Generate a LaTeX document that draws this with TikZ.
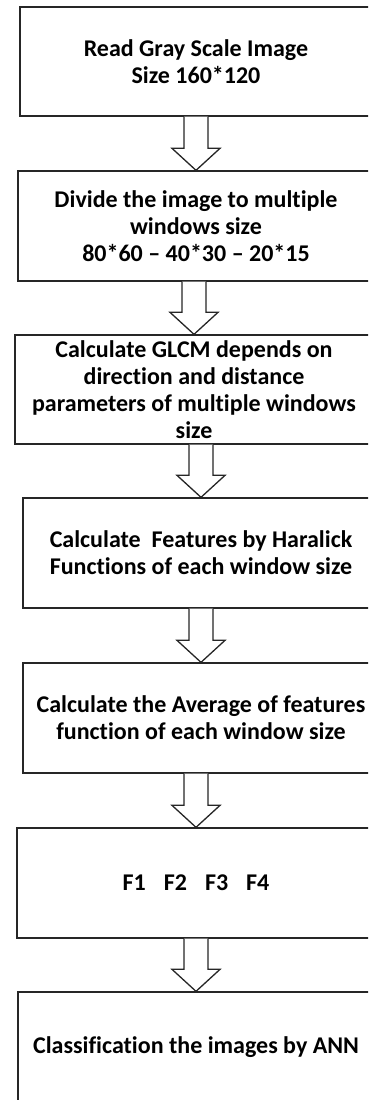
\documentclass[tikz,border=0pt]{standalone}
\usepackage{fontspec}
\setmainfont{Carlito}[Ligatures=NoCommon]
\usetikzlibrary{calc}

\begin{document}
\begin{tikzpicture}[
  x=1pt, y=1pt,
  stage/.style={draw=black!85, line width=1.3pt, align=center,
    font=\bfseries\fontsize{24}{27}\selectfont, inner sep=0pt,
    minimum width=356pt, minimum height=110pt},
  hollow/.style={draw=black!85, line width=1.3pt, fill=white, line join=miter}
]
\useasboundingbox (0,0) rectangle (368,1100);
\clip (0,0) rectangle (368,1100);

% stages, top to bottom
\node[stage, minimum width=352pt, minimum height=109pt] (read) at (196,1038.5)
  {Read Gray Scale Image\\Size 160*120};
\node[stage] (divide) at (196,874)
  {Divide the image to multiple\\windows size\\80*60 -- 40*30 -- 20*15};
\node[stage, minimum width=358pt, minimum height=109pt] (glcm) at (194,710.5)
  {Calculate GLCM depends on\\direction and distance\\parameters of multiple windows\\size};
\node[stage] (haralick) at (201,547)
  {Calculate~ Features by Haralick\\Functions of each window size};
\node[stage] (average) at (201,382)
  {Calculate the Average of features\\function of each window size};
\node[stage, minimum width=358pt] (feat) at (196,217)
  {F1\hspace{0.75em}F2\hspace{0.75em}F3\hspace{0.75em}F4};
\node[stage] (ann) at (196,53)
  {Classification the images by ANN};

% hollow block arrows between stages
\foreach \a/\b in {read/divide, divide/glcm, glcm/haralick,
                   haralick/average, average/feat, feat/ann}{
  \draw[hollow] ($(\a.south -| \b.north)+(-12,0)$) -- ($(\b.north)+(-12,22)$)
    -- ($(\b.north)+(-24,22)$) -- (\b.north) -- ($(\b.north)+(24,22)$)
    -- ($(\b.north)+(12,22)$) -- ($(\a.south -| \b.north)+(12,0)$);
}
\end{tikzpicture}
\end{document}
